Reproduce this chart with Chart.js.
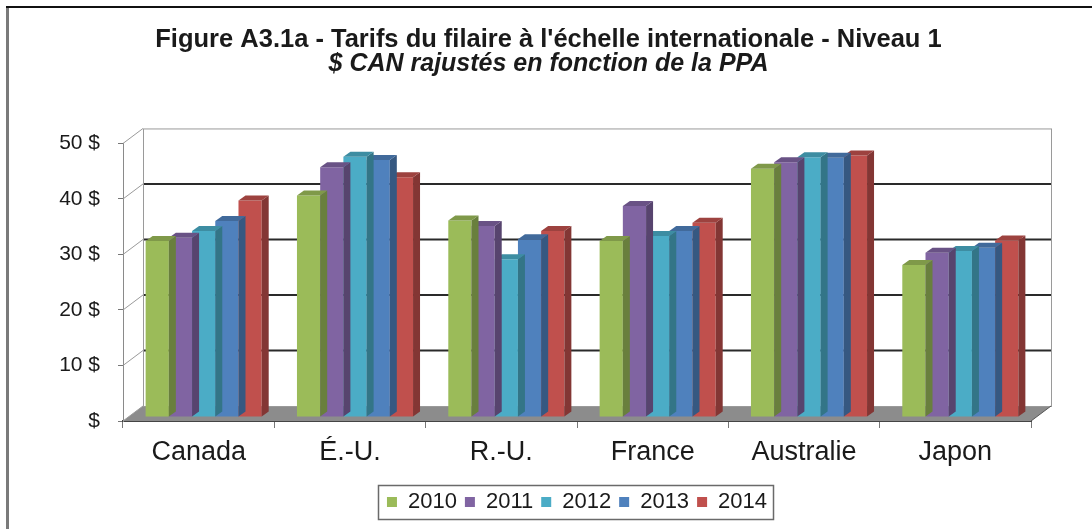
<!DOCTYPE html>
<html>
<head>
<meta charset="utf-8">
<script src="https://cdn.jsdelivr.net/npm/chart.js@4"></script>
<style>
  html, body { margin: 0; padding: 0; background: #fff; }
  #wrap { width: 1092px; height: 529px; }
</style>
</head>
<body>
<div id="wrap"><canvas id="myChart" width="1092" height="529"></canvas></div>
<script>
const categories = ['Canada', 'É.-U.', 'R.-U.', 'France', 'Australie', 'Japon'];
const years = ['2010', '2011', '2012', '2013', '2014'];
const values2010 = [31.7, 39.9, 35.4, 31.7, 44.7, 27.4];
const values2011 = [32.3, 45.0, 34.4, 38.0, 45.9, 29.6];
const values2012 = [33.5, 46.9, 28.4, 32.6, 46.8, 29.9];
const values2013 = [35.3, 46.3, 32.0, 33.5, 46.7, 30.5];
const values2014 = [39.0, 43.2, 33.5, 35.0, 47.1, 31.8];
const yTickLabels = ['$', '10 $', '20 $', '30 $', '40 $', '50 $'];

const TITLE = "Figure A3.1a - Tarifs du filaire à l'échelle internationale - Niveau 1";
const SUBTITLE = '$ CAN rajustés en fonction de la PPA';

const COLORS = ['#9bbb59', '#8064a2', '#4bacc6', '#4f81bd', '#c0504d'];
const FONT = "'Liberation Sans', Arial, sans-serif";

// depth of the floor / back wall, and of the bars
const WALL = { dx: 20, dy: 15 };
const BAR = { tx: 5, ty: -4, dx: 7, dy: 5 };
// the titles are centred on the whole picture, not on the plot
const TITLE_SHIFT = 28;

function shade (hex, f) {
    const n = parseInt(hex.slice(1), 16);
    const r = Math.round(((n >> 16) & 255) * f);
    const g = Math.round(((n >> 8) & 255) * f);
    const b = Math.round((n & 255) * f);
    return `rgb(${r}, ${g}, ${b})`;
}

function poly (ctx, pts, fill) {
    ctx.beginPath();
    ctx.moveTo(pts[0][0], pts[0][1]);
    for (let i = 1; i < pts.length; i++) ctx.lineTo(pts[i][0], pts[i][1]);
    ctx.closePath();
    ctx.fillStyle = fill;
    ctx.fill();
}

const frame3d = {
    id: 'frame3d',
    afterLayout (chart) {
        chart.boxes.forEach(b => {
            if (b.options && (b.options.text === TITLE || b.options.text === SUBTITLE)) {
                b.left += TITLE_SHIFT;
                b.right += TITLE_SHIFT;
            }
        });
    },
    beforeDraw (chart) {
        const { ctx, width, height } = chart;
        ctx.save();
        ctx.fillStyle = '#fff';
        ctx.fillRect(0, 0, width, height);
        ctx.fillStyle = '#7a7a7a';
        ctx.fillRect(6, 6, 3, height - 6);
        ctx.fillStyle = '#111';
        ctx.fillRect(6, 6, width - 6, 2);
        ctx.restore();
    },
    beforeDatasetsDraw (chart) {
        const { ctx, chartArea: a, scales: { y } } = chart;
        const { dx, dy } = WALL;
        ctx.save();

        // floor
        poly(ctx, [[a.left, a.bottom], [a.right, a.bottom], [a.right + dx, a.bottom - dy], [a.left + dx, a.bottom - dy]], '#8c8c8c');

        // side wall diagonals and back wall grid lines
        y.ticks.forEach(t => {
            const yf = y.getPixelForValue(t.value);
            ctx.strokeStyle = '#9a9a9a';
            ctx.lineWidth = 1;
            ctx.beginPath();
            ctx.moveTo(a.left, yf);
            ctx.lineTo(a.left + dx, yf - dy);
            ctx.stroke();
            if (t.value > 0 && t.value < 50) {
                ctx.strokeStyle = '#2a2a2a';
                ctx.lineWidth = 2;
                ctx.beginPath();
                ctx.moveTo(a.left + dx, yf - dy);
                ctx.lineTo(a.right + dx, yf - dy);
                ctx.stroke();
            }
        });
        ctx.strokeStyle = '#9a9a9a';
        ctx.lineWidth = 1;
        ctx.strokeRect(a.left + dx + 0.5, a.top - dy + 0.5, a.right - a.left, a.bottom - a.top);
        ctx.beginPath();
        ctx.moveTo(a.right, a.bottom);
        ctx.lineTo(a.right + dx, a.bottom - dy);
        ctx.strokeStyle = '#555';
        ctx.stroke();

        ctx.restore();
        ctx.save();
        ctx.translate(BAR.tx, BAR.ty);
    },
    afterDatasetDraw (chart, args) {
        const { ctx } = chart;
        const color = COLORS[args.index];
        args.meta.data.forEach(el => {
            const { x, y, base, width } = el.getProps(['x', 'y', 'base', 'width'], true);
            const l = x - width / 2;
            const r = x + width / 2;
            poly(ctx, [[r, y], [r + BAR.dx, y - BAR.dy], [r + BAR.dx, base - BAR.dy], [r, base]], shade(color, 0.68));
            poly(ctx, [[l, y], [l + BAR.dx, y - BAR.dy], [r + BAR.dx, y - BAR.dy], [r, y]], shade(color, 0.82));
        });
    },
    afterDatasetsDraw (chart) {
        chart.ctx.restore();
    },
    afterDraw (chart) {
        const boxes = chart.legend.legendHitBoxes;
        if (!boxes || !boxes.length) return;
        const { ctx } = chart;
        const left = Math.min(...boxes.map(b => b.left)) - 9;
        const right = Math.max(...boxes.map(b => b.left + b.width)) + 6;
        const top = boxes[0].top - 6;
        const bottom = boxes[0].top + boxes[0].height + 6;
        ctx.save();
        ctx.strokeStyle = '#6a6a6a';
        ctx.lineWidth = 1.5;
        ctx.strokeRect(Math.round(left) + 0.5, Math.round(top) + 0.5, Math.round(right - left), Math.round(bottom - top));
        ctx.restore();
    }
};

const seriesValues = [values2010, values2011, values2012, values2013, values2014];

new Chart(document.getElementById('myChart'), {
    type: 'bar',
    data: {
        labels: categories,
        datasets: years.map((yr, i) => ({
            label: yr,
            data: seriesValues[i],
            backgroundColor: COLORS[i],
            borderWidth: 0,
            categoryPercentage: 0.767,
            barPercentage: 1.0,
            clip: false
        }))
    },
    options: {
        responsive: false,
        animation: false,
        devicePixelRatio: 1,
        layout: { padding: { left: 10, right: 61, top: 10, bottom: 6 } },
        plugins: {
            title: {
                display: true,
                text: TITLE,
                color: '#1a1a1a',
                font: { family: FONT, size: 25.5, weight: 'bold', lineHeight: 0.9 },
                padding: { top: 18.5, bottom: 0 }
            },
            subtitle: {
                display: true,
                text: SUBTITLE,
                color: '#1a1a1a',
                font: { family: FONT, size: 25, weight: 'bold', style: 'italic', lineHeight: 0.9 },
                padding: { top: 1, bottom: 68.5 }
            },
            legend: {
                position: 'bottom',
                fullSize: false,
                labels: {
                    color: '#1a1a1a',
                    font: { family: FONT, size: 22 },
                    boxWidth: 10,
                    boxHeight: 10,
                    padding: 8
                }
            },
            tooltip: { enabled: false }
        },
        scales: {
            x: {
                grid: {
                    display: true,
                    drawOnChartArea: false,
                    drawTicks: true,
                    tickLength: 7,
                    color: '#777'
                },
                border: { display: true, color: '#444', width: 2 },
                ticks: {
                    color: '#1a1a1a',
                    font: { family: FONT, size: 27 },
                    padding: 8
                },
                afterFit: scale => { scale.height = 62; }
            },
            y: {
                min: 0,
                max: 50,
                ticks: {
                    stepSize: 10,
                    color: '#1a1a1a',
                    font: { family: FONT, size: 21 },
                    padding: 18,
                    callback: (value, index) => yTickLabels[index]
                },
                grid: {
                    display: true,
                    drawOnChartArea: false,
                    drawTicks: true,
                    tickLength: 5,
                    color: '#777'
                },
                border: { display: true, color: '#8a8a8a', width: 1 },
                afterFit: scale => { scale.width = 113; }
            }
        }
    },
    plugins: [frame3d]
});
</script>
</body>
</html>
